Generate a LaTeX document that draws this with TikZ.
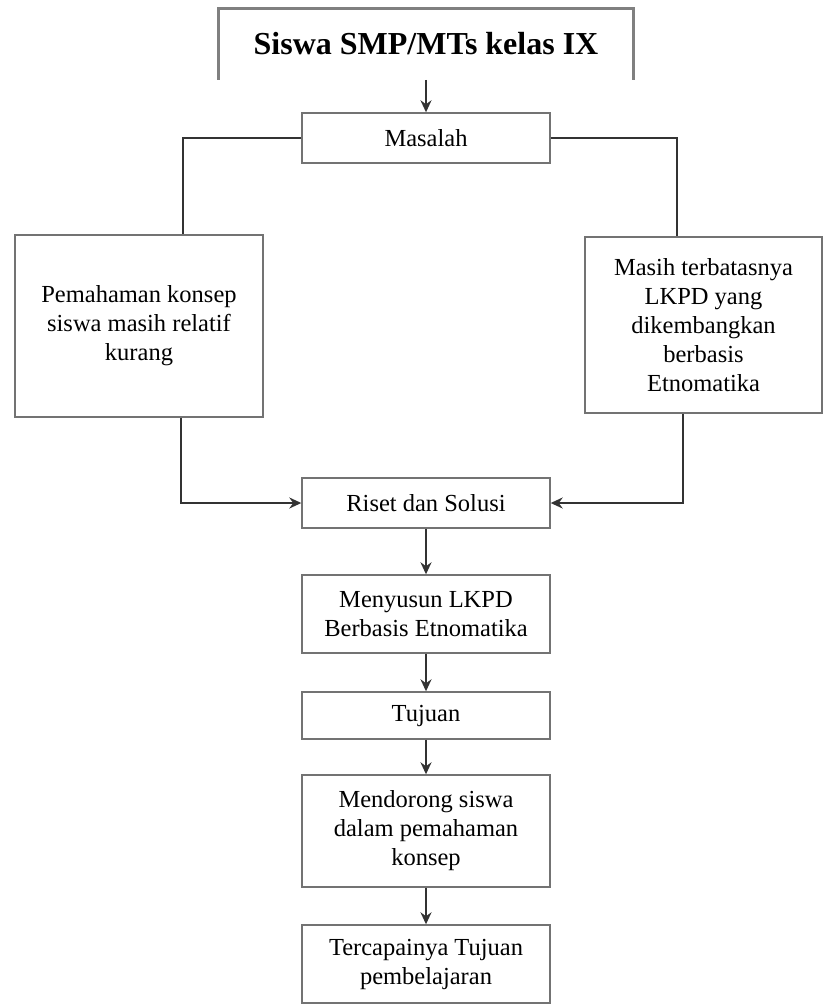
\documentclass[tikz,border=0pt]{standalone}
\usepackage{fontspec}
\setmainfont{Liberation Serif}
\usepackage{tikz}
\usetikzlibrary{arrows.meta,positioning}

\begin{document}
\begin{tikzpicture}[x=1pt,y=-1pt
  ,line width=1.6pt
  ,font=\fontsize{24.5}{29}\selectfont]
  \tikzstyle{box}=[draw=black!55,line width=1.4pt,inner sep=0pt,align=center]
  \tikzstyle{link}=[draw=black!80,line width=1.8pt]
  \tikzstyle{panah}=[link,-{Stealth[length=12pt,width=11pt]}]

  \useasboundingbox (0,0) rectangle (824,1007);

  % judul atas
  \node[inner sep=0pt,minimum width=414,minimum height=70,
    font=\fontsize{32}{38}\selectfont\bfseries] (siswa) at (426,44) {Siswa SMP/MTs kelas IX};
  \draw[black!50,line width=3.2pt] (siswa.south west) |- (siswa.north) -| (siswa.south east);

  % masalah dan cabangnya
  \node[box,minimum width=248,minimum height=50] (masalah) at (426,138) {Masalah};
  \node[box,minimum width=248,minimum height=182] (kiri) at (139,326)
    {Pemahaman konsep\\siswa masih relatif\\kurang};
  \node[box,minimum width=237,minimum height=176] (kanan) at (703.5,325)
    {Masih terbatasnya\\LKPD yang\\dikembangkan\\berbasis\\Etnomatika};

  % alur tengah
  \node[box,minimum width=248,minimum height=50] (riset) at (426,503) {Riset dan Solusi};
  \node[box,minimum width=248,minimum height=78] (susun) at (426,614)
    {Menyusun LKPD\\Berbasis Etnomatika};
  \node[box,minimum width=248,minimum height=47] (tujuan) at (426,715.5) {Tujuan};
  \node[box,minimum width=248,minimum height=112] (dorong) at (426,831)
    {Mendorong siswa\\dalam pemahaman\\konsep};
  \node[box,minimum width=248,minimum height=78] (capai) at (426,964)
    {Tercapainya Tujuan\\pembelajaran};

  \draw[panah] (siswa) -- (masalah);
  \draw[link] (masalah.west) -| ([xshift=44pt]kiri.north);
  \draw[link] (masalah.east) -| ([xshift=-26.5pt]kanan.north);
  \draw[panah] ([xshift=42pt]kiri.south) |- (riset.west);
  \draw[panah] ([xshift=-20.5pt]kanan.south) |- (riset.east);
  \draw[panah] (riset) -- (susun);
  \draw[panah] (susun) -- (tujuan);
  \draw[panah] (tujuan) -- (dorong);
  \draw[panah] (dorong) -- (capai);

\end{tikzpicture}
\end{document}
